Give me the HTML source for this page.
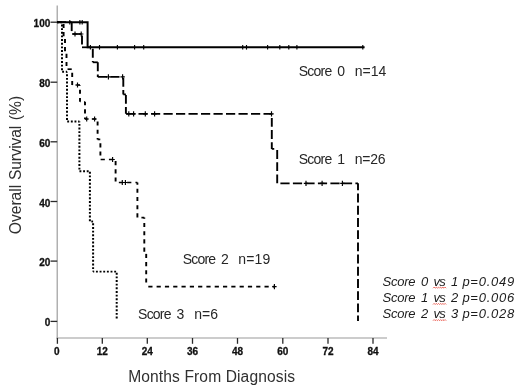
<!DOCTYPE html>
<html><head><meta charset="utf-8"><title>Overall Survival</title>
<style>
html,body{margin:0;padding:0;background:#fff;}
body{width:520px;height:388px;overflow:hidden;font-family:"Liberation Sans",sans-serif;}
svg{display:block}
.tk text{font:bold 10px "Liberation Sans",sans-serif;fill:#111;stroke:#111;stroke-width:0.3px}
.lab text{font:14px "Liberation Sans",sans-serif;fill:#262626}
.ttl{font:15.6px "Liberation Sans",sans-serif;fill:#303030}
.pv text{font:italic 13px "Liberation Sans",sans-serif;fill:#1c1c1c}
</style></head><body>
<svg width="520" height="388" viewBox="0 0 520 388">
<rect width="520" height="388" fill="#fff"/>
<g stroke="#999" stroke-width="1.15" fill="none"><path d="M57.2,5.5V338.4"/><path d="M56.6,338H387"/></g>
<g stroke="#2a2a2a" stroke-width="1.3" fill="none"><path d="M50.5,22.2H57.2"/><path d="M50.5,82.2H57.2"/><path d="M50.5,141.8H57.2"/><path d="M50.5,201.5H57.2"/><path d="M50.5,261.1H57.2"/><path d="M50.5,321.4H57.2"/><path d="M57.4,338V343.8"/><path d="M102.3,338V343.8"/><path d="M147.3,338V343.8"/><path d="M192.5,338V343.8"/><path d="M237.5,338V343.8"/><path d="M282.8,338V343.8"/><path d="M328,338V343.8"/><path d="M373,338V343.8"/></g>
<g class="tk"><text transform="translate(50.3,27.2) scale(1,1)" text-anchor="end">100</text><text transform="translate(50.3,87.2) scale(1,1)" text-anchor="end">80</text><text transform="translate(50.3,146.8) scale(1,1)" text-anchor="end">60</text><text transform="translate(50.3,206.5) scale(1,1)" text-anchor="end">40</text><text transform="translate(50.3,266.1) scale(1,1)" text-anchor="end">20</text><text transform="translate(50.3,326.4) scale(1,1)" text-anchor="end">0</text><text transform="translate(56.699999999999996,354.6) scale(1,1)" text-anchor="middle">0</text><text transform="translate(102.3,354.6) scale(1,1)" text-anchor="middle">12</text><text transform="translate(147.3,354.6) scale(1,1)" text-anchor="middle">24</text><text transform="translate(192.5,354.6) scale(1,1)" text-anchor="middle">36</text><text transform="translate(237.5,354.6) scale(1,1)" text-anchor="middle">48</text><text transform="translate(282.8,354.6) scale(1,1)" text-anchor="middle">60</text><text transform="translate(328,354.6) scale(1,1)" text-anchor="middle">72</text><text transform="translate(373,354.6) scale(1,1)" text-anchor="middle">84</text></g>
<g fill="none" stroke="#000">
<path d="M57.0,22.2L62.0,22.2" stroke-width="1.9" stroke-dasharray="1.9 1.75" stroke-dashoffset="0.00"/><path d="M62.0,22.2L62.0,71.8" stroke-width="2.0" stroke-dasharray="1.9 1.75" stroke-dashoffset="1.35"/><path d="M62.0,71.8L67.0,71.8" stroke-width="1.9" stroke-dasharray="1.9 1.75" stroke-dashoffset="3.50"/><path d="M67.0,71.8L67.0,121.5" stroke-width="2.0" stroke-dasharray="1.9 1.75" stroke-dashoffset="1.20"/><path d="M67.0,121.5L79.4,121.5" stroke-width="1.9" stroke-dasharray="1.9 1.75" stroke-dashoffset="3.45"/><path d="M79.4,121.5L79.4,171.3" stroke-width="2.0" stroke-dasharray="1.9 1.75" stroke-dashoffset="1.25"/><path d="M79.4,171.3L89.9,171.3" stroke-width="1.9" stroke-dasharray="1.9 1.75" stroke-dashoffset="3.60"/><path d="M89.9,171.3L89.9,221.5" stroke-width="2.0" stroke-dasharray="1.9 1.75" stroke-dashoffset="3.15"/><path d="M89.9,221.5L93.1,221.5" stroke-width="1.9" stroke-dasharray="1.9 1.75" stroke-dashoffset="2.25"/><path d="M93.1,221.5L93.1,271.6" stroke-width="2.0" stroke-dasharray="1.9 1.75" stroke-dashoffset="1.80"/><path d="M93.1,271.6L116.7,271.6" stroke-width="1.9" stroke-dasharray="1.9 1.75" stroke-dashoffset="0.80"/><path d="M116.7,271.6L116.7,320.2" stroke-width="2.0" stroke-dasharray="1.9 1.75" stroke-dashoffset="2.50"/>
<path d="M57.0,22.2L63.6,22.2" stroke-width="1.7" stroke-dasharray="4.2 4.1" stroke-dashoffset="0.00"/><path d="M63.6,22.2L63.6,37.8" stroke-width="1.9" stroke-dasharray="4.1 4.1" stroke-dashoffset="6.52"/><path d="M63.6,37.8L65.0,37.8" stroke-width="1.7" stroke-dasharray="4.2 4.1" stroke-dashoffset="5.79"/><path d="M65.0,37.8L65.0,53.3" stroke-width="1.9" stroke-dasharray="4.1 4.1" stroke-dashoffset="7.10"/><path d="M65.0,53.3L66.5,53.3" stroke-width="1.7" stroke-dasharray="4.2 4.1" stroke-dashoffset="6.28"/><path d="M66.5,53.3L66.5,69.2" stroke-width="1.9" stroke-dasharray="4.1 4.1" stroke-dashoffset="7.69"/><path d="M66.5,69.2L72.2,69.2" stroke-width="1.7" stroke-dasharray="4.2 4.1" stroke-dashoffset="7.27"/><path d="M72.2,69.2L72.2,85.0" stroke-width="1.9" stroke-dasharray="4.1 4.1" stroke-dashoffset="4.62"/><path d="M72.2,85.0L80.0,85.0" stroke-width="1.7" stroke-dasharray="4.2 4.1" stroke-dashoffset="4.07"/><path d="M80.0,85.0L80.0,101.8" stroke-width="1.9" stroke-dasharray="4.1 4.1" stroke-dashoffset="3.52"/><path d="M80.0,101.8L85.0,101.8" stroke-width="1.7" stroke-dasharray="4.2 4.1" stroke-dashoffset="3.97"/><path d="M85.0,101.8L85.0,119.0" stroke-width="1.9" stroke-dasharray="4.1 4.1" stroke-dashoffset="0.66"/><path d="M85.0,119.0L97.6,119.0" stroke-width="1.7" stroke-dasharray="4.2 4.1" stroke-dashoffset="1.48"/><path d="M97.6,119.0L97.6,139.4" stroke-width="1.9" stroke-dasharray="4.1 4.1" stroke-dashoffset="5.71"/><path d="M97.6,139.4L100.4,139.4" stroke-width="1.7" stroke-dasharray="4.2 4.1" stroke-dashoffset="1.53"/><path d="M100.4,139.4L100.4,159.5" stroke-width="1.9" stroke-dasharray="4.1 4.1" stroke-dashoffset="4.28"/><path d="M100.4,159.5L115.6,159.5" stroke-width="1.7" stroke-dasharray="4.2 4.1" stroke-dashoffset="8.07"/><path d="M115.6,159.5L115.6,182.5" stroke-width="1.9" stroke-dasharray="4.1 4.1" stroke-dashoffset="6.59"/><path d="M115.6,182.5L137.4,182.5" stroke-width="1.7" stroke-dasharray="4.2 4.1" stroke-dashoffset="5.05"/><path d="M137.4,182.5L137.4,217.6" stroke-width="1.9" stroke-dasharray="4.1 4.1" stroke-dashoffset="1.93"/><path d="M137.4,217.6L144.3,217.6" stroke-width="1.7" stroke-dasharray="4.2 4.1" stroke-dashoffset="4.28"/><path d="M144.3,217.6L144.3,252.0" stroke-width="1.9" stroke-dasharray="4.1 4.1" stroke-dashoffset="2.85"/><path d="M144.3,252.0L146.2,252.0" stroke-width="1.7" stroke-dasharray="4.2 4.1" stroke-dashoffset="4.50"/><path d="M146.2,252.0L146.2,286.6" stroke-width="1.9" stroke-dasharray="4.1 4.1" stroke-dashoffset="6.33"/><path d="M146.2,286.6L274.5,286.6" stroke-width="1.7" stroke-dasharray="4.2 4.1" stroke-dashoffset="6.20"/>
<path d="M57.0,22.2L71.7,22.2" stroke-width="1.75" stroke-dasharray="9.2 3.3" stroke-dashoffset="0.00"/><path d="M71.7,22.2L71.7,34.0" stroke-width="1.9" stroke-dasharray="8.9 3.3" stroke-dashoffset="0.00"/><path d="M71.7,34.0L82.0,34.0" stroke-width="1.75" stroke-dasharray="9.2 3.3" stroke-dashoffset="12.00"/><path d="M82.0,34.0L82.0,47.3" stroke-width="1.9" stroke-dasharray="8.9 3.3" stroke-dashoffset="10.70"/><path d="M82.0,47.3L92.8,47.3" stroke-width="1.75" stroke-dasharray="9.2 3.3" stroke-dashoffset="0.00"/><path d="M92.8,47.3L92.8,62.3" stroke-width="1.9" stroke-dasharray="8.9 3.3" stroke-dashoffset="10.70"/><path d="M92.8,62.3L97.8,62.3" stroke-width="1.75" stroke-dasharray="9.2 3.3" stroke-dashoffset="0.00"/><path d="M97.8,62.3L97.8,76.9" stroke-width="1.9" stroke-dasharray="8.9 3.3" stroke-dashoffset="0.00"/><path d="M97.8,76.9L123.3,76.9" stroke-width="1.75" stroke-dasharray="9.2 3.3" stroke-dashoffset="0.00"/><path d="M123.3,76.9L123.3,94.4" stroke-width="1.9" stroke-dasharray="8.9 3.3" stroke-dashoffset="11.20"/><path d="M123.3,94.4L125.9,94.4" stroke-width="1.75" stroke-dasharray="9.2 3.3" stroke-dashoffset="4.41"/><path d="M125.9,94.4L125.9,113.8" stroke-width="1.9" stroke-dasharray="8.9 3.3" stroke-dashoffset="11.70"/><path d="M125.9,113.8L271.8,113.8" stroke-width="1.75" stroke-dasharray="9.2 3.3" stroke-dashoffset="12.40"/><path d="M271.8,113.8L271.8,148.9" stroke-width="1.9" stroke-dasharray="8.9 3.3" stroke-dashoffset="8.10"/><path d="M271.8,148.9L277.2,148.9" stroke-width="1.75" stroke-dasharray="9.2 3.3" stroke-dashoffset="6.76"/><path d="M277.2,148.9L277.2,183.3" stroke-width="1.9" stroke-dasharray="8.9 3.3" stroke-dashoffset="11.10"/><path d="M277.2,183.3L358.0,183.3" stroke-width="1.75" stroke-dasharray="9.2 3.3" stroke-dashoffset="9.30"/><path d="M358.0,183.3L358.0,321.0" stroke-width="1.9" stroke-dasharray="8.9 3.3" stroke-dashoffset="1.90"/>
<path d="M57,22.2H87.6V47.3H364.6" stroke-width="2"/>
</g>
<g stroke="#000" stroke-width="1.15" fill="none"><path d="M69.8,19.9V24.5"/><path d="M79.9,19.9V24.5"/><path d="M82.2,19.9V24.5"/><path d="M90.4,45.0V49.599999999999994"/><path d="M99.5,45.0V49.599999999999994"/><path d="M117.4,45.0V49.599999999999994"/><path d="M134.6,45.0V49.599999999999994"/><path d="M143.7,45.0V49.599999999999994"/><path d="M242.7,45.0V49.599999999999994"/><path d="M246.5,45.0V49.599999999999994"/><path d="M267.6,45.0V49.599999999999994"/><path d="M279.8,45.0V49.599999999999994"/><path d="M288.8,45.0V49.599999999999994"/><path d="M296.9,45.0V49.599999999999994"/><path d="M362.8,45.0V49.599999999999994"/></g><g stroke="#000" stroke-width="1.15" fill="none"><path d="M75,31.4V36.6M72.8,34H77.2"/><path d="M81.2,31.4V36.6M79.0,34H83.4"/><path d="M108.4,74.30000000000001V79.5M106.2,76.9H110.60000000000001"/><path d="M122.6,74.30000000000001V79.5M120.39999999999999,76.9H124.8"/><path d="M128.8,111.2V116.39999999999999M126.60000000000001,113.8H131.0"/><path d="M133.6,111.2V116.39999999999999M131.4,113.8H135.79999999999998"/><path d="M145.3,111.2V116.39999999999999M143.10000000000002,113.8H147.5"/><path d="M154.6,111.2V116.39999999999999M152.4,113.8H156.79999999999998"/><path d="M271.5,111.2V116.39999999999999M269.3,113.8H273.7"/><path d="M306,180.70000000000002V185.9M303.8,183.3H308.2"/><path d="M322.1,180.70000000000002V185.9M319.90000000000003,183.3H324.3"/><path d="M342.4,180.70000000000002V185.9M340.2,183.3H344.59999999999997"/><path d="M77.5,82.4V87.6M75.3,85H79.7"/><path d="M86.7,116.4V121.6M84.5,119H88.9"/><path d="M94.6,116.4V121.6M92.39999999999999,119H96.8"/><path d="M112.6,156.9V162.1M110.39999999999999,159.5H114.8"/><path d="M122.3,179.9V185.1M120.1,182.5H124.5"/><path d="M125.4,179.9V185.1M123.2,182.5H127.60000000000001"/><path d="M274.4,284.0V289.20000000000005M272.2,286.6H276.59999999999997"/></g>
<g class="lab">
<text y="76.1"><tspan x="298.8" textLength="33.4">Score</tspan> <tspan x="337.2">0</tspan></text><text x="354.8" y="76.1" textLength="31.4">n=14</text>
<text y="164.2"><tspan x="298.8" textLength="33.4">Score</tspan> <tspan x="337.2">1</tspan></text><text x="354.8" y="164.2" textLength="30.7">n=26</text>
<text y="264.2"><tspan x="182.7" textLength="33.4">Score</tspan> <tspan x="221.1">2</tspan></text><text x="238.3" y="264.2" textLength="32">n=19</text>
<text y="319.2"><tspan x="138.1" textLength="33.4">Score</tspan> <tspan x="176.5">3</tspan></text><text x="194.2" y="319.2" textLength="23.8">n=6</text>
</g>
<text class="ttl" x="128.2" y="381.6" textLength="166.8">Months From Diagnosis</text>
<text class="ttl" transform="translate(20.6,0) rotate(-90)"><tspan x="-234.2" textLength="49.4">Overall</tspan> <tspan x="-179.9" textLength="54">Survival</tspan> <tspan x="-120.3" textLength="24.6">(%)</tspan></text>
<g class="pv">
<text y="285.9"><tspan x="382.6" textLength="33">Score</tspan> <tspan x="421.1" textLength="7.2">0</tspan> <tspan x="433.4" textLength="12.3">vs</tspan> <tspan x="450.9" textLength="7.2">1</tspan> <tspan x="462.4" textLength="51.8">p=0.049</tspan></text>
<text y="302.2"><tspan x="382.6" textLength="33">Score</tspan> <tspan x="421.1" textLength="7.2">1</tspan> <tspan x="433.4" textLength="12.3">vs</tspan> <tspan x="450.9" textLength="7.2">2</tspan> <tspan x="462.4" textLength="51.8">p=0.006</tspan></text>
<text y="318.4"><tspan x="382.6" textLength="33">Score</tspan> <tspan x="421.1" textLength="7.2">2</tspan> <tspan x="433.4" textLength="12.3">vs</tspan> <tspan x="450.9" textLength="7.2">3</tspan> <tspan x="462.4" textLength="51.8">p=0.028</tspan></text>
</g>
<path d="M433,288.2l1.1,-1.1l1.1,1.1l1.1,-1.1l1.1,1.1l1.1,-1.1l1.1,1.1l1.1,-1.1l1.1,1.1l1.1,-1.1l1.1,1.1l1.1,-1.1l1.1,1.1M433,304.5l1.1,-1.1l1.1,1.1l1.1,-1.1l1.1,1.1l1.1,-1.1l1.1,1.1l1.1,-1.1l1.1,1.1l1.1,-1.1l1.1,1.1l1.1,-1.1l1.1,1.1M433,320.7l1.1,-1.1l1.1,1.1l1.1,-1.1l1.1,1.1l1.1,-1.1l1.1,1.1l1.1,-1.1l1.1,1.1l1.1,-1.1l1.1,1.1l1.1,-1.1l1.1,1.1" stroke="#e8463a" stroke-width="0.8" fill="none"/>
</svg>
</body></html>
